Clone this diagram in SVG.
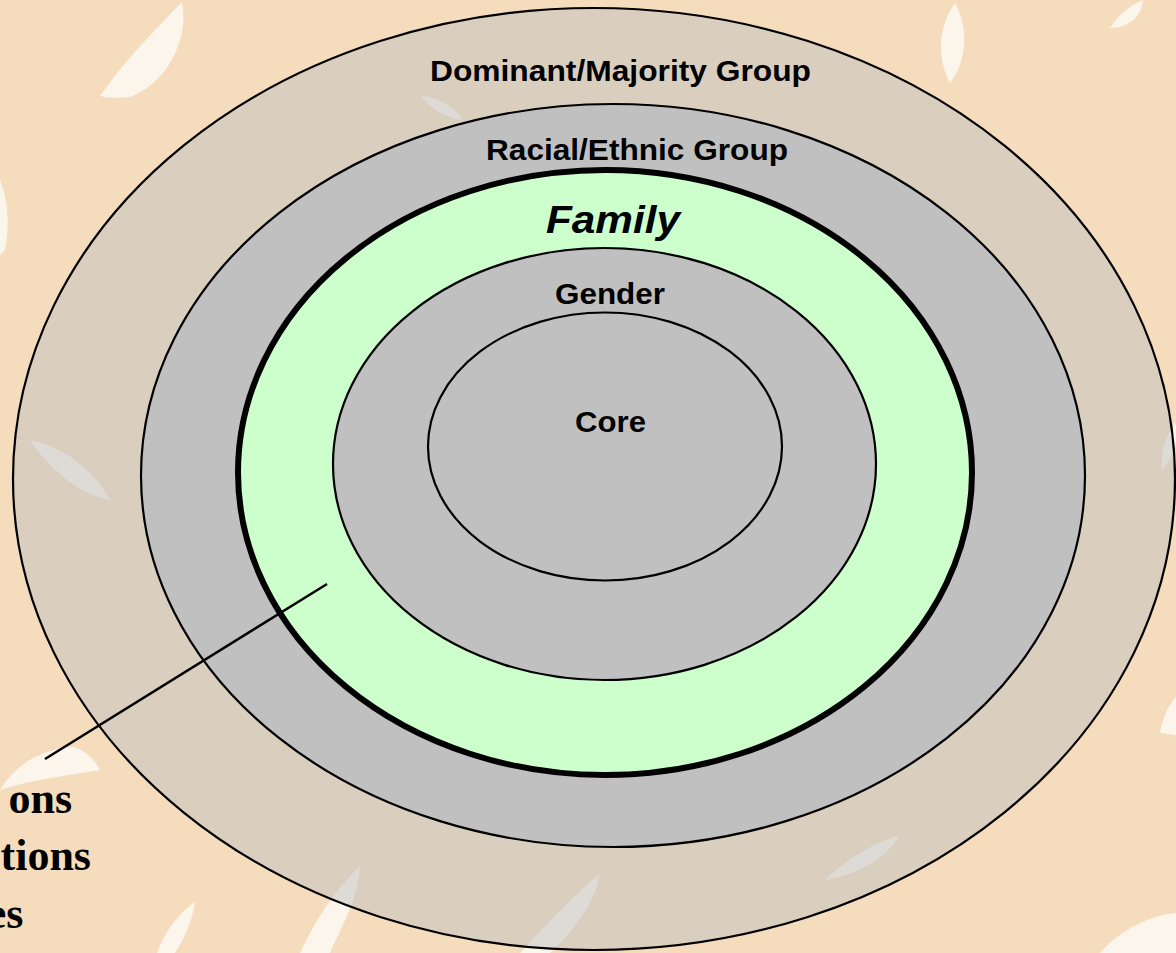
<svg xmlns="http://www.w3.org/2000/svg" width="1176" height="953" viewBox="0 0 1176 953">
<style>
.leaf{fill:#ffffff;fill-opacity:0.7}
.ring{stroke:#000;stroke-width:2.2}
.lbl{font-family:"Liberation Sans",Arial,sans-serif;font-weight:bold;font-size:29px;fill:#000}
.side{font-family:"Liberation Serif","Times New Roman",serif;font-weight:bold;font-size:44px;fill:#000}
</style>
<rect x="0" y="0" width="1176" height="953" fill="#f4dcbc"/>
<g id="leaves">
<path class="leaf" d="M100,96 C125,60 155,30 182,2 C190,40 165,85 130,97 C120,98 108,98 100,96 Z"/>
<path class="leaf" d="M950,83 C938,60 936,30 955,3 C968,25 968,60 950,83 Z"/>
<path class="leaf" d="M1110,28 C1118,15 1130,5 1143,0 C1142,15 1130,28 1110,28 Z"/>
<path class="leaf" d="M30,440 C60,445 95,470 110,500 C80,495 50,470 30,440 Z"/>
<path class="leaf" d="M1160,733 C1163,715 1170,703 1176,697 L1176,735 Z"/>
<path class="leaf" d="M1100,953 C1120,930 1150,915 1176,913 L1176,953 Z"/>
<path class="leaf" d="M0,790 C15,765 40,750 70,747 C85,748 95,760 100,770 C70,775 30,780 0,790 Z"/>
<path class="leaf" d="M520,953 C545,925 575,895 600,873 C595,905 570,935 550,953 Z"/>
<path class="leaf" d="M420,95 C440,98 455,108 463,120 C445,118 430,108 420,95 Z"/>
<path class="leaf" d="M1176,423 C1165,435 1160,455 1162,470 C1170,460 1176,450 1176,440 Z"/>
<path class="leaf" d="M0,180 C8,200 10,225 5,250 L0,255 Z"/>
<path class="leaf" d="M300,953 C315,920 335,890 360,866 C358,900 340,930 330,953 Z"/>
<path class="leaf" d="M825,880 C845,860 875,842 900,835 C885,860 855,875 825,880 Z"/>
<path class="leaf" d="M157,953 C165,930 180,912 195,902 C192,925 180,945 175,953 Z"/>
</g>
<g id="dominant">
<ellipse class="ring" cx="594" cy="479" rx="581" ry="471" fill="#c0c0c0" fill-opacity="0.5"/>
<text class="lbl" x="430" y="81" textLength="381" lengthAdjust="spacingAndGlyphs">Dominant/Majority Group</text>
</g>
<g id="racial">
<ellipse class="ring" cx="613" cy="475.5" rx="472" ry="371.5" fill="#c0c0c0"/>
<text class="lbl" x="486" y="160" textLength="302" lengthAdjust="spacingAndGlyphs">Racial/Ethnic Group</text>
</g>
<g id="family">
<ellipse cx="605" cy="472.5" rx="367" ry="302.5" fill="#ccffcc" stroke="#000" stroke-width="6"/>
<text x="546" y="233" font-family="'Liberation Sans',Arial,sans-serif" font-weight="bold" font-style="italic" font-size="38" textLength="134" lengthAdjust="spacingAndGlyphs">Family</text>
</g>
<g id="gender">
<ellipse class="ring" cx="604.5" cy="464" rx="271.5" ry="216" fill="#c0c0c0"/>
<text class="lbl" x="555" y="304" textLength="110" lengthAdjust="spacingAndGlyphs">Gender</text>
</g>
<g id="core">
<ellipse class="ring" cx="605" cy="446.5" rx="177" ry="134" fill="#c0c0c0"/>
<text class="lbl" x="575" y="432" textLength="71" lengthAdjust="spacingAndGlyphs">Core</text>
</g>
<g id="connectors">
<line x1="45" y1="759" x2="327" y2="584" stroke="#000" stroke-width="2.5"/>
</g>
<g id="side-text">
<text class="side" x="72" y="813" text-anchor="end">ons</text>
<text class="side" x="91" y="870" text-anchor="end">tions</text>
<text class="side" x="23.5" y="928" text-anchor="end">es</text>
</g>
</svg>
